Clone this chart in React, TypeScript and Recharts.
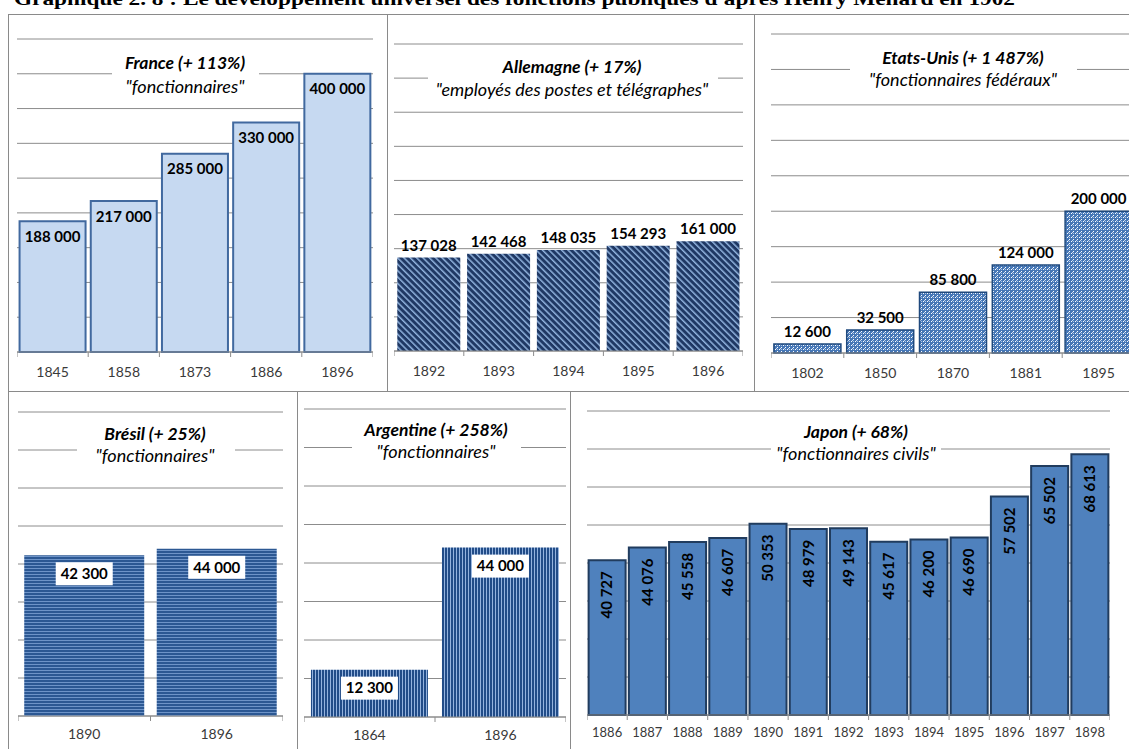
import React from "react";
import { BarChart, Bar, XAxis, YAxis, CartesianGrid, LabelList } from "recharts";

// données
const franceYears = ["1845", "1858", "1873", "1886", "1896"];
const franceValues = [188000, 217000, 285000, 330000, 400000];

const allemagneYears = ["1892", "1893", "1894", "1895", "1896"];
const allemagneValues = [137028, 142468, 148035, 154293, 161000];

const usYears = ["1802", "1850", "1870", "1881", "1895"];
const usValues = [12600, 32500, 85800, 124000, 200000];

const bresilYears = ["1890", "1896"];
const bresilValues = [42300, 44000];

const argentineYears = ["1864", "1896"];
const argentineValues = [12300, 44000];

const japonYears = ["1886", "1887", "1888", "1889", "1890", "1891", "1892", "1893", "1894", "1895", "1896", "1897", "1898"];
const japonValues = [40727, 44076, 45558, 46607, 50353, 48979, 49143, 45617, 46200, 46690, 57502, 65502, 68613];

const bigTicks = [0, 50000, 100000, 150000, 200000, 250000, 300000, 350000, 400000, 450000];
const smallTicks = [0, 10000, 20000, 30000, 40000, 50000, 60000, 70000, 80000];

const FONT = "Lato, 'Open Sans', sans-serif";
const GRID = "#8c8c8c";
const BORDER = "#8a8a8a";

const fmt = (v: number) => String(v).replace(/\B(?=(\d{3})+(?!\d))/g, " ");

const NoTick = () => <g />;

const makeTick = (band: number, n: number, fontSize: number, dy: number) => (props: any) => {
  const { x, y, payload, index } = props;
  return (
    <g>
      <line x1={x - band / 2} x2={x - band / 2} y1={y} y2={y + 5} stroke={GRID} />
      {index === n - 1 && <line x1={x + band / 2} x2={x + band / 2} y1={y} y2={y + 5} stroke={GRID} />}
      <text x={x} y={y + dy} textAnchor="middle" fontSize={fontSize} fill="#3a3a3a" fontFamily={FONT}>
        {payload.value}
      </text>
    </g>
  );
};

const BoxedLabel = (props: any) => {
  const { x, y, width, value } = props;
  const cx = x + width / 2;
  const w = 57;
  const h = 23;
  return (
    <g>
      <rect x={cx - w / 2} y={y + 7} width={w} height={h} fill="#fff" />
      <text x={cx} y={y + 7 + h / 2} dy="0.35em" textAnchor="middle" fontSize={15} fontWeight="bold" fill="#000" fontFamily={FONT}>
        {fmt(value)}
      </text>
    </g>
  );
};

const VerticalLabel = (props: any) => {
  const { x, y, width, value } = props;
  const cx = x + width / 2;
  return (
    <text
      transform={`translate(${cx}, ${y + 11}) rotate(-90)`}
      dy="0.35em"
      textAnchor="end"
      fontSize={15}
      fontWeight="bold"
      fill="#000"
      fontFamily={FONT}
    >
      {fmt(value)}
    </text>
  );
};

type PanelProps = {
  years: string[];
  values: number[];
  plotLeft: number;
  plotRight: number;
  gridTop: number;
  axisY: number;
  max: number;
  ticks: number[];
  fill: string;
  stroke?: string;
  strokeWidth?: number;
  gap: string;
  label: "insideTop" | "top" | "boxed" | "vertical";
  tickFont: number;
  tickDy: number;
  pattern?: React.ReactNode;
};

const Panel = (p: PanelProps) => {
  const width = p.plotRight - p.plotLeft;
  const height = p.axisY - p.gridTop + 5 + 35;
  const data = p.years.map((y, i) => ({ year: y, value: p.values[i] }));
  const band = width / p.years.length;
  return (
    <div style={{ position: "absolute", left: p.plotLeft, top: p.gridTop - 5 }}>
      <BarChart width={width} height={height} data={data} margin={{ top: 5, right: 0, bottom: 0, left: 0 }} barCategoryGap={p.gap}>
        <defs>{p.pattern}</defs>
        <CartesianGrid vertical={false} stroke={GRID} />
        <YAxis width={0} domain={[0, p.max]} ticks={p.ticks} interval={0} tick={<NoTick />} axisLine={false} tickLine={false} />
        <XAxis
          dataKey="year"
          height={35}
          interval={0}
          tickSize={0}
          tickMargin={0}
          tickLine={false}
          axisLine={{ stroke: GRID }}
          tick={makeTick(band, p.years.length, p.tickFont, p.tickDy)}
        />
        <Bar dataKey="value" fill={p.fill} stroke={p.stroke} strokeWidth={p.strokeWidth} isAnimationActive={false}>
          {p.label === "insideTop" && (
            <LabelList dataKey="value" position="insideTop" offset={10} formatter={(v: any) => fmt(v)} fill="#000" fontSize={15} fontWeight="bold" fontFamily={FONT} />
          )}
          {p.label === "top" && (
            <LabelList dataKey="value" position="top" offset={7} formatter={(v: any) => fmt(v)} fill="#000" fontSize={15} fontWeight="bold" fontFamily={FONT} />
          )}
          {p.label === "boxed" && <LabelList dataKey="value" content={BoxedLabel} />}
          {p.label === "vertical" && <LabelList dataKey="value" content={VerticalLabel} />}
        </Bar>
      </BarChart>
    </div>
  );
};

type TitleSpec = { cx: number; ty: number; sy: number; x0: number; x1: number; y0: number; y1: number; title: string; sub: string };

const titles: TitleSpec[] = [
  { cx: 185, ty: 63, sy: 87, x0: 112, x1: 259, y0: 50, y1: 100, title: "France (+ 113%)", sub: "\"fonctionnaires\"" },
  { cx: 572, ty: 67, sy: 90, x0: 428, x1: 718, y0: 55, y1: 102, title: "Allemagne (+ 17%)", sub: "\"employés des postes et télégraphes\"" },
  { cx: 963, ty: 58, sy: 80, x0: 850, x1: 1077, y0: 45, y1: 93, title: "Etats-Unis (+ 1 487%)", sub: "\"fonctionnaires fédéraux\"" },
  { cx: 155, ty: 434, sy: 456, x0: 77, x1: 235, y0: 420, y1: 470, title: "Brésil (+ 25%)", sub: "\"fonctionnaires\"" },
  { cx: 436, ty: 430, sy: 452, x0: 352, x1: 521, y0: 418, y1: 466, title: "Argentine (+ 258%)", sub: "\"fonctionnaires\"" },
  { cx: 856, ty: 432, sy: 454, x0: 771, x1: 941, y0: 420, y1: 470, title: "Japon (+ 68%)", sub: "\"fonctionnaires civils\"" },
];

export default function App() {
  return (
    <div style={{ position: "fixed", left: 0, top: 0, width: 1129, height: 749, overflow: "hidden", background: "#fff" }}>
      <Panel
        years={franceYears}
        values={franceValues}
        plotLeft={17}
        plotRight={373}
        gridTop={39}
        axisY={352}
        max={450000}
        ticks={bigTicks}
        fill="#c6d9f1"
        stroke="#41699f"
        strokeWidth={2}
        gap="3.6%"
        label="insideTop"
        tickFont={14}
        tickDy={25}
      />
      <Panel
        years={allemagneYears}
        values={allemagneValues}
        plotLeft={394}
        plotRight={743}
        gridTop={44}
        axisY={351}
        max={450000}
        ticks={bigTicks}
        fill="url(#patDe)"
        gap="4.7%"
        label="top"
        tickFont={14}
        tickDy={25}
        pattern={
          <pattern id="patDe" width={4.5} height={4.5} patternUnits="userSpaceOnUse" patternTransform="rotate(-45)">
            <rect width={4.5} height={4.5} fill="#1f3864" />
            <rect x={0} width={1.5} height={4.5} fill="#8fb1dc" />
          </pattern>
        }
      />
      <Panel
        years={usYears}
        values={usValues}
        plotLeft={771}
        plotRight={1135}
        gridTop={34}
        axisY={353}
        max={450000}
        ticks={bigTicks}
        fill="url(#patUs)"
        stroke="#1f497d"
        strokeWidth={1.5}
        gap="4%"
        label="top"
        tickFont={14}
        tickDy={25}
        pattern={
          <pattern id="patUs" width={4} height={4} patternUnits="userSpaceOnUse">
            <rect width={4} height={4} fill="#4677b6" />
            <rect x={0} y={0} width={1} height={1} fill="#ffffff" />
            <rect x={2} y={2} width={1} height={1} fill="#ffffff" />
            <rect x={2} y={0} width={1} height={1} fill="#a8c3e6" />
            <rect x={1} y={3} width={1} height={1} fill="#c8daf0" />
          </pattern>
        }
      />
      <Panel
        years={bresilYears}
        values={bresilValues}
        plotLeft={18}
        plotRight={283}
        gridTop={412}
        axisY={716}
        max={80000}
        ticks={smallTicks}
        fill="url(#patBr)"
        gap="4.7%"
        label="boxed"
        tickFont={14}
        tickDy={23}
        pattern={
          <pattern id="patBr" width={3} height={3} patternUnits="userSpaceOnUse">
            <rect width={3} height={3} fill="#2c5893" />
            <rect y={2} width={3} height={1} fill="#6e94c8" />
          </pattern>
        }
      />
      <Panel
        years={argentineYears}
        values={argentineValues}
        plotLeft={304}
        plotRight={566}
        gridTop={409}
        axisY={717}
        max={80000}
        ticks={smallTicks}
        fill="url(#patAr)"
        gap="5.3%"
        label="boxed"
        tickFont={14}
        tickDy={23}
        pattern={
          <pattern id="patAr" width={3} height={3} patternUnits="userSpaceOnUse">
            <rect width={3} height={3} fill="#214c88" />
            <rect x={2} width={1} height={3} fill="#94b3de" />
          </pattern>
        }
      />
      <Panel
        years={japonYears}
        values={japonValues}
        plotLeft={587}
        plotRight={1110}
        gridTop={411}
        axisY={715}
        max={80000}
        ticks={smallTicks}
        fill="#4f81bd"
        stroke="#213c5e"
        strokeWidth={2}
        gap="4%"
        label="vertical"
        tickFont={13}
        tickDy={22}
      />

      <svg width={1129} height={749} style={{ position: "absolute", left: 0, top: 0, pointerEvents: "none" }}>
        <text x={14} y={5} fontFamily="'Liberation Serif', serif" fontWeight="bold" fontSize={19} textLength={1001} lengthAdjust="spacingAndGlyphs" fill="#000">
          Graphique 2. 8 : Le développement universel des fonctions publiques d'après Henry Ménard en 1902
        </text>
        <line x1={8} x2={1129} y1={14.5} y2={14.5} stroke={BORDER} />
        <line x1={8} x2={1129} y1={391.5} y2={391.5} stroke={BORDER} />
        <line x1={8.5} x2={8.5} y1={14} y2={749} stroke={BORDER} />
        <line x1={387.5} x2={387.5} y1={14} y2={391} stroke={BORDER} />
        <line x1={754.5} x2={754.5} y1={14} y2={391} stroke={BORDER} />
        <line x1={297.5} x2={297.5} y1={391} y2={749} stroke={BORDER} />
        <line x1={570.5} x2={570.5} y1={391} y2={749} stroke={BORDER} />
        {titles.map((t) => (
          <g key={t.title}>
            <rect x={t.x0} y={t.y0} width={t.x1 - t.x0} height={t.y1 - t.y0} fill="#fff" />
            <text x={t.cx} y={t.ty} dy="0.35em" textAnchor="middle" fontFamily={FONT} fontSize={17.5} fontWeight="bold" fontStyle="italic" fill="#000">
              {t.title}
            </text>
            <text x={t.cx} y={t.sy} dy="0.35em" textAnchor="middle" fontFamily={FONT} fontSize={18} fontStyle="italic" fill="#000">
              {t.sub}
            </text>
          </g>
        ))}
      </svg>
    </div>
  );
}
